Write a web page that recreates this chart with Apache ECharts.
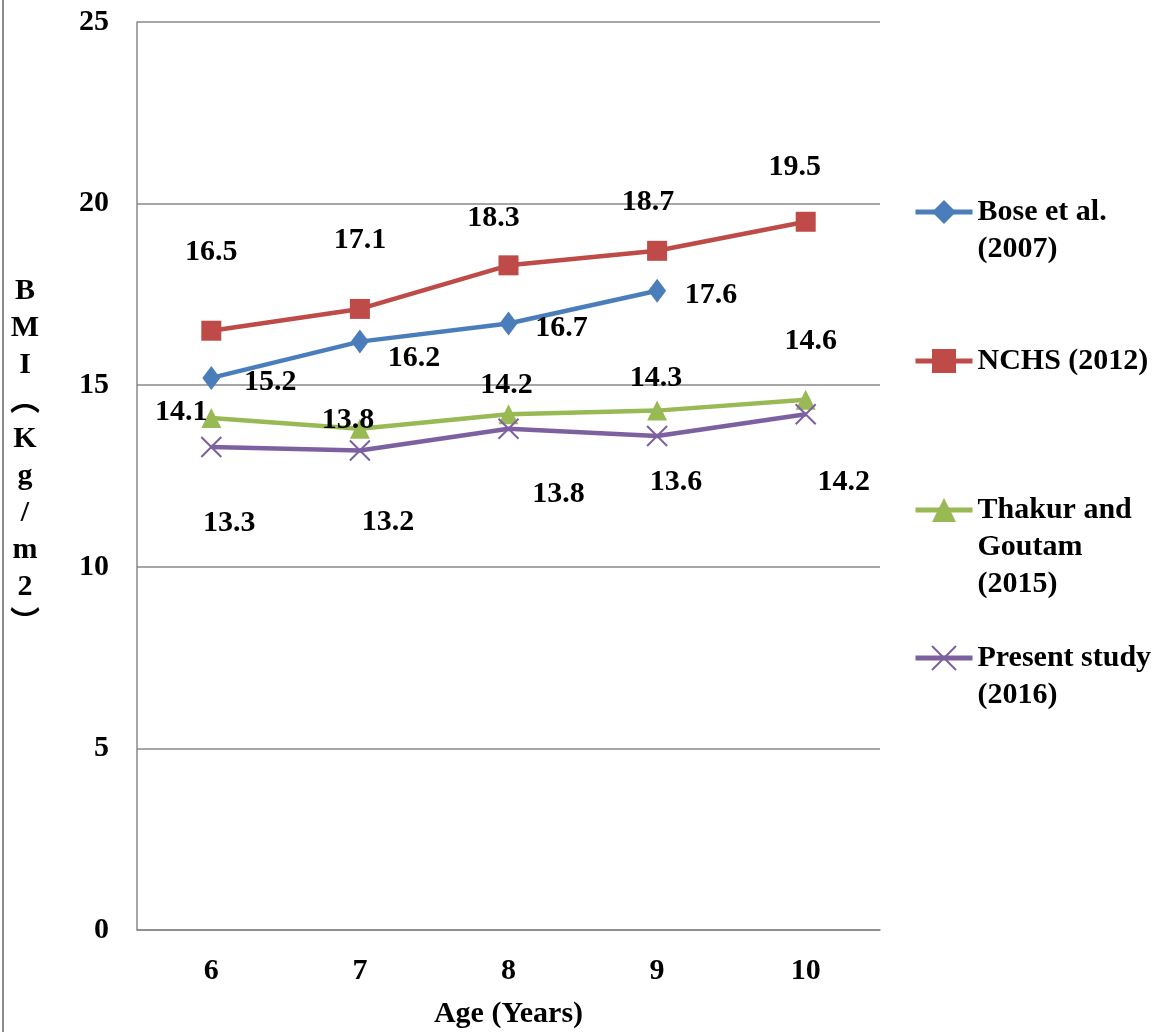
<!DOCTYPE html>
<html>
<head>
<meta charset="utf-8">
<script src="https://cdn.jsdelivr.net/npm/echarts@6/dist/echarts.min.js"></script>
<style>
html,body{margin:0;padding:0;background:#fff;}
#chart{width:1163px;height:1032px;}
</style>
</head>
<body>
<div id="chart"></div>
<script>
const ages = ['6', '7', '8', '9', '10'];
const seriesNames = ['Bose et al.\n(2007)', 'NCHS (2012)', 'Thakur and\nGoutam\n(2015)', 'Present study\n(2016)'];
const bose = [15.2, 16.2, 16.7, 17.6, null];
const nchs = [16.5, 17.1, 18.3, 18.7, 19.5];
const thakur = [14.1, 13.8, 14.2, 14.3, 14.6];
const present = [13.3, 13.2, 13.8, 13.6, 14.2];
const yTicks = [0, 5, 10, 15, 20, 25];

// label offsets (styling only), relative to each point
const boseOff = [[59, 4], [54, 17], [53, 5], [54, 4], [0, 0]];
const nchsOff = [[0, -78], [0, -69], [-15, -47], [-9, -49], [-11, -55]];
const thakurOff = [[-30, -6], [-12, -9], [-2, -29], [-1, -32], [5, -58]];
const presentOff = [[18, 76], [28, 72], [50, 65], [19, 46], [38, 68]];

const FONT = "'Liberation Serif', 'Times New Roman', serif";
const FS = 30;
const colors = ['#4A7EBB', '#BE4B48', '#98B954', '#7D60A0'];

function withLabels(vals, offs) {
  return vals.map((v, i) => v == null ? null : ({
    value: v,
    label: { offset: offs[i] }
  }));
}

const labelBase = {
  show: true,
  position: 'inside',
  color: '#000',
  fontFamily: FONT,
  fontWeight: 'bold',
  fontSize: FS
};

const chart = echarts.init(document.getElementById('chart'), null, { renderer: 'canvas' });

const L = 37;
function legendFor(idx, iconY, nLines) {
  const pad = nLines - 1;
  return {
    data: [seriesNames[idx]],
    left: 913,
    top: iconY - (2 * nLines - 1) * L / 2,
    padding: 0,
    orient: 'vertical',
    itemWidth: 57,
    itemHeight: 30,
    itemGap: 0,
    lineStyle: { width: 5 },
    formatter: function (name) { return '\n'.repeat(pad) + name; },
    textStyle: {
      fontFamily: FONT,
      fontWeight: 'bold',
      fontSize: FS,
      color: '#000',
      lineHeight: L
    }
  };
}

chart.setOption({
  animation: false,
  color: colors,
  grid: { left: 137, right: 283, top: 22, bottom: 102, containLabel: false, outerBoundsMode: 'none' },
  legend: [
    legendFor(0, 212, 2),
    legendFor(1, 361, 1),
    legendFor(2, 510, 3),
    legendFor(3, 658, 2)
  ],
  xAxis: {
    type: 'category',
    data: ages,
    boundaryGap: true,
    name: 'Age (Years)',
    nameLocation: 'middle',
    nameGap: 69,
    nameTextStyle: { fontFamily: FONT, fontWeight: 'bold', fontSize: FS, color: '#000' },
    axisLine: { show: true, lineStyle: { color: '#898989', width: 1.5 } },
    axisTick: { show: false },
    axisLabel: { fontFamily: FONT, fontWeight: 'bold', fontSize: FS, color: '#000', margin: 26 }
  },
  yAxis: {
    type: 'value',
    min: yTicks[0],
    max: yTicks[yTicks.length - 1],
    interval: 5,
    name: 'B\nM\nI\n︵\nK\ng\n/\nm\n2\n︶\n',
    nameLocation: 'middle',
    nameRotate: 0,
    nameGap: 112,
    nameTextStyle: {
      fontFamily: FONT + ", 'Noto Sans CJK SC'",
      fontWeight: 'bold',
      fontSize: 30,
      color: '#000',
      align: 'center',
      verticalAlign: 'middle',
      lineHeight: 37
    },
    axisLine: { show: true, lineStyle: { color: '#898989', width: 1.5 } },
    axisTick: { show: false },
    axisLabel: { fontFamily: FONT, fontWeight: 'bold', fontSize: FS, color: '#000', margin: 28 },
    splitLine: { show: true, lineStyle: { color: '#898989', width: 1.5 } }
  },
  graphic: [{
    type: 'line',
    shape: { x1: 3, y1: 0, x2: 3, y2: 1032 },
    style: { stroke: '#8c8c8c', lineWidth: 2 },
    silent: true
  }],
  series: [
    {
      name: seriesNames[0], type: 'line', data: withLabels(bose, boseOff),
      symbol: 'diamond', symbolSize: [18, 24],
      lineStyle: { width: 4.5, color: colors[0] },
      itemStyle: { color: colors[0] },
      label: labelBase, z: 3
    },
    {
      name: seriesNames[1], type: 'line', data: withLabels(nchs, nchsOff),
      symbol: 'rect', symbolSize: 20,
      lineStyle: { width: 4.5, color: colors[1] },
      itemStyle: { color: colors[1] },
      label: labelBase, z: 3
    },
    {
      name: seriesNames[2], type: 'line', data: withLabels(thakur, thakurOff),
      symbol: 'triangle', symbolSize: 20,
      lineStyle: { width: 4.5, color: colors[2] },
      itemStyle: { color: colors[2] },
      label: labelBase, z: 3
    },
    {
      name: seriesNames[3], type: 'line', data: withLabels(present, presentOff),
      symbol: 'path://M0,0L10,10M0,10L10,0', symbolSize: 20,
      lineStyle: { width: 4.5, color: colors[3] },
      itemStyle: { color: colors[3], borderColor: colors[3], borderWidth: 2 },
      label: labelBase, z: 3
    }
  ]
});
</script>
</body>
</html>
